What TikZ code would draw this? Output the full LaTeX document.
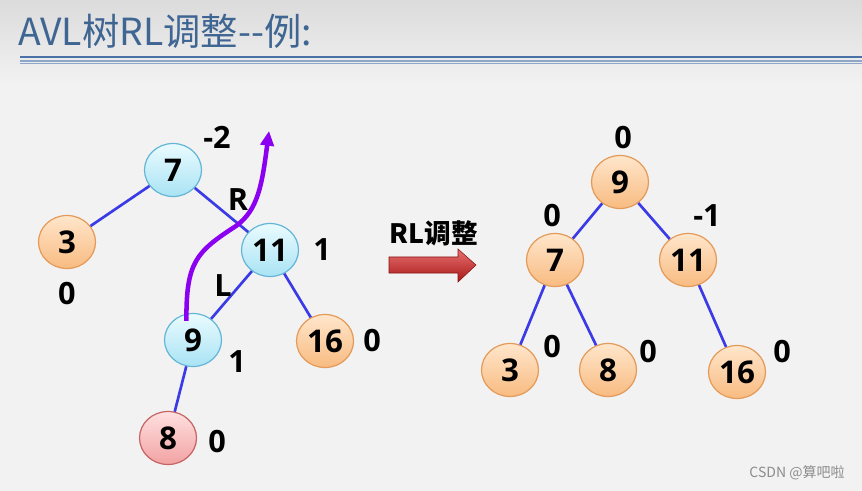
\documentclass[tikz,border=0pt]{standalone}
\usepackage{fontspec}
\setmainfont{Open Sans}
\newfontfamily\cjkfont{Noto Sans CJK SC}
\usetikzlibrary{arrows.meta,shapes.geometric}
\definecolor{bgc}{HTML}{F2F2F2}
\definecolor{titlec}{HTML}{3F6592}
\definecolor{linec}{HTML}{4A72A8}
\definecolor{linec2}{HTML}{8EA6C8}
\definecolor{edgec}{HTML}{3A3AE6}
\definecolor{pathc}{HTML}{8B00F0}
\definecolor{cyantop}{HTML}{EAFBFF}
\definecolor{cyanbot}{HTML}{A9E3F4}
\definecolor{cyanbd}{HTML}{63B6D6}
\definecolor{ortop}{HTML}{FFE6CC}
\definecolor{orbot}{HTML}{F8BB80}
\definecolor{orbd}{HTML}{E49A58}
\definecolor{pktop}{HTML}{FFE0E0}
\definecolor{pkbot}{HTML}{F2A2A2}
\definecolor{pkbd}{HTML}{C46464}
\definecolor{redtop}{HTML}{E87070}
\definecolor{redbot}{HTML}{A81818}
\tikzset{
  nd/.style={ellipse, minimum width=57*0.75pt, minimum height=53*0.75pt, inner sep=0pt,
    line width=0.9pt, font=\fontsize{23.5}{23.5}\selectfont\bfseries, text=black},
  cy/.style={nd, draw=cyanbd, top color=cyantop, bottom color=cyanbot},
  orn/.style={nd, draw=orbd, top color=ortop, bottom color=orbot},
  pk/.style={nd, draw=pkbd, top color=pktop, bottom color=pkbot},
  bf/.style={font=\fontsize{23}{23}\selectfont\bfseries, inner sep=0pt},
  edge/.style={draw=edgec, line width=2pt},
}
\begin{document}
\begin{tikzpicture}[x=0.75pt,y=-0.75pt]
\useasboundingbox (0,0) rectangle (862,491);
\fill[bgc] (0,0) rectangle (862,491);
\shade[top color=black!14, bottom color=bgc] (0,0) rectangle (862,85);
% title
\node[anchor=west, text=titlec, inner sep=0pt, font=\cjkfont\fontsize{28}{28}\selectfont] (title) at (18,31) {AVL树RL调整--例:};
\draw[linec, line width=1.6pt] (20,57) -- (862,57);
\draw[linec2, line width=0.8pt] (20,61) -- (862,61);
\draw[linec2, line width=0.8pt] (20,63.5) -- (862,63.5);
% left tree
\node[cy] (L7) at (173,170) {7};
\node[orn] (L3) at (67,242) {3};
\node[cy] (L11) at (270,250) {11};
\node[cy] (L9) at (193,340) {9};
\node[orn] (L16) at (325,341) {16};
\node[pk] (L8) at (168,438) {8};
\draw[edge] (L7) -- (L3);
\draw[edge] (L7) -- (L11);
\draw[edge] (L11) -- (L9);
\draw[edge] (L11) -- (L16);
\draw[edge] (L9) -- (L8);
\node[bf] (b7) at (217,137) {-2};
\node[bf] (b3) at (67,294) {0};
\node[bf] (b11) at (322,250) {1};
\node[bf] (b9) at (237,362) {1};
\node[bf] (b16) at (372,341) {0};
\node[bf] (b8) at (217,442) {0};
\node[bf] (R) at (238,200) {R};
\node[bf] (L) at (223,286) {L};
\coordinate (tip) at (269,131);
\draw[pathc, line width=3.4pt, -{Triangle[length=11pt,width=10pt]}]
  (L9.north west) ++(14,0) coordinate (ps)
  (ps) .. controls (186,262) and (196,252) .. (236,226)
  .. controls (258,210) and (262,185) .. (tip);
% middle arrow
\node[font=\cjkfont\fontsize{20}{20}\selectfont\bfseries, inner sep=0pt] (rl) at (434,233) {RL调整};
\shade[top color=redtop, bottom color=redbot, draw=redbot!80!black, line width=0.4pt]
  (389,257) -- (458,257) -- (458,249) -- (476,265) -- (458,282) -- (458,273) -- (389,273) -- cycle;
% right tree
\node[orn] (R9) at (620,182) {9};
\node[orn] (R7) at (555,260) {7};
\node[orn] (R11) at (688,260) {11};
\node[orn] (R3) at (510,370) {3};
\node[orn] (R8) at (608,370) {8};
\node[orn] (R16) at (737,372) {16};
\draw[edge] (R9) -- (R7);
\draw[edge] (R9) -- (R11);
\draw[edge] (R7) -- (R3);
\draw[edge] (R7) -- (R8);
\draw[edge] (R11) -- (R16);
\node[bf] (c9) at (623,138) {0};
\node[bf] (c7) at (552,216) {0};
\node[bf] (c11) at (707,216) {-1};
\node[bf] (c3) at (552,347) {0};
\node[bf] (c8) at (648,352) {0};
\node[bf] (c16) at (782,352) {0};
% watermark
\node[text=black!45, font=\cjkfont\fontsize{10.5}{10.5}\selectfont, inner sep=0pt] (wm) at (797,473) {CSDN @算吧啦};
\end{tikzpicture}
\end{document}
